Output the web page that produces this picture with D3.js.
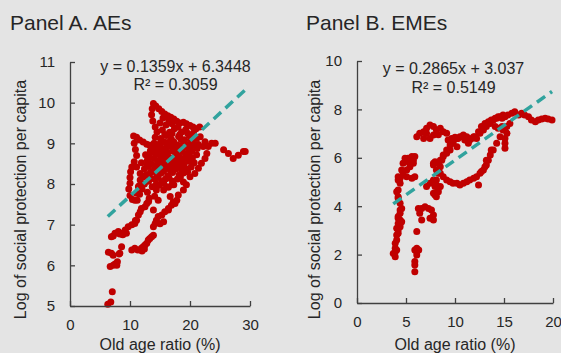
<!DOCTYPE html>
<html>
<head>
<meta charset="utf-8">
<script src="https://cdn.jsdelivr.net/npm/d3@7"></script>
<style>
  html, body { margin: 0; padding: 0; background: #e4e4e4; }
  svg { display: block; font-family: "Liberation Sans", Arial, sans-serif; }
</style>
</head>
<body>
<svg id="chart" width="561" height="353"></svg>
<script>
"use strict";

// panel A: advanced economies, [old age ratio, log social protection per capita]
const aesPoints = [
  [6.3, 5.04], [6.8, 5.1], [7.05, 5.35],
  [6.4, 6.32], [7.2, 6.25], [6.9, 6.3], [8.2, 6.28], [8.3, 6.3], [8.6, 6.46],
  [6.7, 5.97], [7.2, 6.0], [7.5, 6.03], [7.8, 6.0], [7.9, 6.09],
  [6.9, 6.7], [7.2, 6.72], [7.5, 6.79], [8.05, 6.83], [8.3, 6.77], [8.6, 6.79],
  [8.8, 6.75], [9.2, 6.87], [9.4, 6.79], [9.7, 6.95], [10.3, 7.0], [10.8, 7.03],
  [10.9, 7.1], [11.1, 7.11], [11.4, 7.24], [11.7, 7.32], [11.9, 7.4], [12.5, 7.44],
  [12.8, 7.52], [13.1, 7.57],
  [10.3, 6.38], [10.8, 6.42], [11.3, 6.38], [11.9, 6.42], [12.0, 6.35], [12.4, 6.4],
  [12.2, 6.46], [12.5, 6.5], [12.8, 6.54], [13.05, 6.62], [13.3, 6.66], [13.6, 6.7],
  [13.9, 6.74], [13.9, 6.95], [14.2, 7.03], [14.4, 7.11], [14.7, 7.2], [15.0, 7.02],
  [15.6, 7.07], [15.3, 7.24], [15.8, 7.32], [16.4, 7.4], [16.9, 7.48], [17.5, 7.52],
  [13.9, 7.36], [14.7, 7.6], [14.4, 7.85], [14.1, 7.7], [16.7, 7.69], [17.2, 7.56],
  [16.4, 7.36], [15.6, 7.85], [16.1, 7.93], [18.05, 7.73], [17.8, 7.6], [18.9, 7.85],
  [19.4, 7.98], [20.0, 8.18], [20.8, 8.26], [21.4, 8.39], [21.9, 8.51], [22.5, 8.63],
  [11.2, 7.6], [11.6, 7.75], [12.0, 7.88], [12.4, 8.0], [12.9, 7.8], [13.2, 7.65], [11.5, 7.95],
  [10.6, 9.18], [11.1, 9.15], [11.6, 9.08], [12.2, 9.03], [12.8, 8.98], [13.3, 8.95],
  [10.7, 9.0], [10.9, 8.85], [11.1, 8.7], [10.7, 8.55], [10.3, 8.42], [10.1, 8.3],
  [10.0, 8.16], [10.0, 8.02], [9.8, 7.88], [10.0, 7.72], [10.4, 7.62],
  [11.1, 8.42], [11.7, 8.26], [12.2, 8.18], [11.7, 8.1], [11.4, 7.93], [11.1, 7.77], [10.8, 7.6],
  [13.9, 9.98], [14.3, 9.92], [14.8, 9.85], [15.3, 9.78], [15.8, 9.72], [16.3, 9.68],
  [16.8, 9.64], [17.3, 9.6], [17.8, 9.54], [18.3, 9.5], [18.9, 9.52], [19.4, 9.48],
  [20.0, 9.44], [20.5, 9.4], [21.0, 9.36], [21.6, 9.4],
  [13.7, 9.85], [13.6, 9.7], [13.8, 9.55], [14.2, 9.4], [14.5, 9.28], [14.2, 9.15],
  [14.0, 9.0], [14.3, 8.88], [14.6, 8.76],
  [21.7, 9.16], [22.2, 8.92], [22.8, 8.75], [22.5, 9.04], [23.05, 8.92], [23.6, 9.0],
  [24.2, 9.0], [25.6, 8.84], [26.4, 8.75], [27.2, 8.63], [28.05, 8.71], [28.9, 8.8], [29.2, 8.8],
  [15.5, 9.62], [16.5, 9.55], [15.0, 9.5], [16.0, 9.45], [17.0, 9.48], [18.0, 9.4],
  [15.4, 9.33], [16.6, 9.27], [17.4, 9.36], [18.6, 9.28], [19.3, 9.34], [20.6, 9.26],
  [15.1, 9.12], [16.1, 9.19], [16.9, 9.1], [18.1, 9.17], [19.1, 9.09], [19.9, 9.2], [21.1, 9.12],
  [14.7, 8.97], [15.7, 9.04], [16.3, 8.95], [17.3, 9.03], [17.9, 8.96], [18.9, 9.05],
  [19.7, 8.97], [20.4, 9.04], [21.4, 8.97],
  [13.4, 8.82], [14.4, 8.88], [15.4, 8.8], [16.0, 8.9], [17.1, 8.82], [17.7, 8.88],
  [18.7, 8.8], [19.4, 8.9], [20.3, 8.81], [21.2, 8.87],
  [12.6, 8.72], [13.2, 8.66], [14.3, 8.74], [15.1, 8.67], [15.9, 8.73], [16.6, 8.65],
  [17.6, 8.72], [18.3, 8.66], [19.3, 8.74], [20.0, 8.67], [21.1, 8.72],
  [11.9, 8.52], [12.9, 8.58], [13.5, 8.5], [14.6, 8.57], [15.2, 8.51], [16.3, 8.58],
  [16.9, 8.52], [18.0, 8.57], [18.7, 8.5], [19.8, 8.56], [20.7, 8.52],
  [12.4, 8.37], [13.1, 8.43], [14.1, 8.36], [14.8, 8.43], [15.9, 8.37], [16.5, 8.42],
  [17.6, 8.36], [18.2, 8.43], [19.4, 8.37], [20.2, 8.42],
  [12.7, 8.22], [13.4, 8.28], [14.5, 8.21], [15.2, 8.27], [16.3, 8.2], [17.1, 8.28],
  [18.2, 8.22], [18.9, 8.27],
  [13.1, 8.07], [14.1, 8.12], [15.3, 8.06], [15.9, 8.12], [17.1, 8.07], [17.9, 8.12], [18.9, 8.05],
  [13.7, 7.93], [14.9, 7.97], [16.4, 7.92], [17.3, 7.98],
  [15.8, 9.22], [17.0, 9.24], [18.3, 9.22], [19.6, 9.25],
  [15.2, 9.06], [16.7, 9.06], [18.5, 9.1], [20.2, 9.1],
  [14.0, 8.92], [15.0, 8.93], [16.8, 8.93], [18.3, 8.93], [20.0, 8.93], [20.9, 8.95],
  [13.8, 8.78], [14.8, 8.78], [16.3, 8.78], [18.0, 8.78], [19.9, 8.78],
  [13.0, 8.62], [14.0, 8.63], [15.6, 8.62], [17.3, 8.62], [19.0, 8.62], [20.4, 8.64],
  [12.8, 8.47], [14.4, 8.47], [16.0, 8.48], [17.4, 8.47], [19.0, 8.47],
  [13.8, 8.31], [15.6, 8.32], [16.8, 8.33], [18.6, 8.33], [19.6, 8.3],
  [13.4, 8.15], [14.7, 8.16], [16.5, 8.15], [18.4, 8.17],
  [14.4, 8.0], [15.6, 8.02], [17.0, 7.98]
];

// panel B: emerging market economies
const emesPoints = [
  [3.7, 2.05], [3.9, 1.91], [3.9, 2.12], [4.05, 2.19], [3.9, 2.26], [3.9, 2.47],
  [4.05, 2.6], [4.05, 2.81], [4.2, 2.88], [4.2, 3.02], [4.05, 3.09], [4.2, 3.29],
  [4.4, 3.29], [4.4, 3.43], [4.2, 3.5], [4.56, 3.36], [4.4, 3.15], [4.4, 3.71],
  [4.2, 3.57], [4.56, 3.91], [4.4, 3.84], [4.4, 4.12], [4.2, 4.33], [4.2, 4.39],
  [4.05, 4.6], [4.2, 4.67], [4.4, 4.95], [4.2, 5.08], [4.2, 5.22], [4.4, 5.15],
  [4.56, 5.5], [4.7, 5.29], [4.7, 5.77], [5.07, 5.5], [5.07, 5.9], [5.2, 5.98],
  [5.2, 5.84], [4.9, 5.98], [5.4, 5.63], [5.6, 6.05], [5.6, 5.98], [5.75, 5.77],
  [5.75, 5.9], [5.9, 6.05], [5.07, 5.22], [5.6, 5.15], [5.9, 5.22],
  [6.1, 2.95], [6.1, 2.26], [5.9, 2.19], [6.1, 2.12], [6.3, 2.19], [6.1, 1.98],
  [5.9, 1.71], [5.9, 1.57], [5.9, 1.29],
  [6.26, 3.91], [6.6, 3.91], [6.94, 3.98], [7.3, 3.91], [7.6, 3.84], [7.8, 3.64],
  [7.45, 3.5], [6.6, 3.43], [6.4, 3.71], [7.8, 3.43],
  [6.1, 6.87], [6.4, 7.01], [6.8, 7.08], [7.1, 7.22], [7.45, 7.36], [7.8, 7.29],
  [8.1, 7.15], [8.5, 7.22], [8.8, 7.08], [9.15, 7.01], [7.45, 6.8], [6.8, 6.8],
  [7.8, 6.94], [7.1, 7.0], [8.3, 6.95],
  [7.8, 4.53], [7.96, 4.81], [8.1, 5.08], [8.3, 5.36], [8.5, 5.63], [8.65, 5.9],
  [8.8, 6.12], [9.15, 6.32], [9.5, 6.53], [9.8, 6.67], [10.2, 6.8], [10.5, 6.87],
  [10.85, 6.94], [11.2, 6.87], [11.5, 6.74], [11.9, 6.87], [12.2, 6.8], [12.55, 7.01],
  [12.9, 7.15], [13.2, 7.29], [13.6, 7.42], [13.9, 7.56], [14.25, 7.63], [14.6, 7.7],
  [14.9, 7.77],
  [7.1, 4.81], [7.45, 4.95], [7.8, 5.08], [8.5, 4.81], [8.3, 4.6], [7.96, 4.46],
  [8.1, 4.39], [8.3, 4.74], [8.1, 4.88],
  [7.8, 5.77], [8.1, 5.5], [8.5, 5.36], [8.8, 5.22], [9.15, 5.08], [9.5, 5.01],
  [9.8, 4.95], [10.2, 4.95], [10.5, 4.88], [10.85, 4.95], [11.2, 5.01], [11.5, 5.08],
  [11.9, 5.15], [12.2, 5.22], [12.55, 5.36], [12.9, 5.5], [13.2, 5.7], [13.4, 5.9],
  [13.6, 6.12], [13.9, 6.32], [14.25, 6.6], [14.6, 6.87], [14.9, 7.15], [15.3, 7.29],
  [15.6, 7.42], [12.4, 4.88],
  [9.3, 6.74], [9.66, 6.8], [10.0, 6.85], [10.3, 6.8], [10.7, 6.87], [11.0, 6.74],
  [11.36, 6.6], [9.8, 6.6], [10.2, 6.46], [9.5, 6.32], [9.15, 6.19], [8.8, 6.05],
  [8.5, 5.9], [8.3, 5.77], [7.96, 5.84], [7.8, 5.7],
  [11.36, 6.74], [11.7, 6.8], [12.04, 6.87], [12.4, 7.08], [12.7, 7.29], [13.06, 7.42],
  [13.4, 7.49], [13.7, 7.56], [14.1, 7.63], [14.4, 7.7], [14.8, 7.63], [15.1, 7.7],
  [15.4, 7.77], [15.8, 7.84], [16.1, 7.9], [16.5, 7.77], [16.8, 7.84], [17.1, 7.77],
  [17.5, 7.7], [17.8, 7.56], [18.2, 7.49], [18.5, 7.56], [18.85, 7.6], [19.2, 7.63],
  [19.5, 7.6], [19.9, 7.56],
  [14.1, 7.29], [14.4, 7.22], [14.8, 7.29], [15.1, 7.22], [15.3, 7.01], [15.1, 6.8],
  [15.1, 6.6], [15.1, 6.39], [13.7, 6.32], [13.2, 5.9], [13.06, 5.63], [12.7, 5.43]
];

const aesXTicks = [0, 10, 20, 30];
const aesYTicks = [5, 6, 7, 8, 9, 10, 11];
const emesXTicks = [0, 5, 10, 15, 20];
const emesYTicks = [0, 2, 4, 6, 8, 10];

// linear fit: slope, intercept
const aesFit = [0.1359, 6.3448];
const emesFit = [0.2865, 3.037];
const aesEquation = ["y = 0.1359x + 6.3448", "R\u00b2 = 0.3059"];
const emesEquation = ["y = 0.2865x + 3.037", "R\u00b2 = 0.5149"];

const TEXT = "#262626";
const AXIS = "#404040";
const DOT = "#c00000";
const TREND = "#31a39e";

const svg = d3.select("#chart");

const panels = [
  {
    title: "Panel A. AEs",
    titleX: 10,
    points: aesPoints,
    xTicks: aesXTicks,
    yTicks: aesYTicks,
    fit: aesFit,
    equation: aesEquation,
    x: [70, 250],
    y: [306, 62],
    eqX: 175.5,
    eqY: [72, 90],
    yTitleX: 25.5,
  },
  {
    title: "Panel B. EMEs",
    titleX: 306,
    points: emesPoints,
    xTicks: emesXTicks,
    yTicks: emesYTicks,
    fit: emesFit,
    equation: emesEquation,
    x: [357, 553],
    y: [303, 61],
    eqX: 453.5,
    eqY: [74, 92.5],
    yTitleX: 319.5,
  },
];

panels.forEach(drawPanel);

function drawPanel(p) {
  const g = svg.append("g");

  const xScale = d3
    .scaleLinear()
    .domain(d3.extent(p.xTicks))
    .range(p.x);
  const yScale = d3
    .scaleLinear()
    .domain(d3.extent(p.yTicks))
    .range(p.y);

  // title
  g.append("text")
    .attr("x", p.titleX)
    .attr("y", 30)
    .attr("font-size", 21)
    .attr("fill", TEXT)
    .text(p.title);

  // dots
  g.append("g")
    .selectAll("circle")
    .data(p.points)
    .enter()
    .append("circle")
    .attr("cx", (d) => xScale(d[0]))
    .attr("cy", (d) => yScale(d[1]))
    .attr("r", 3.5)
    .attr("fill", DOT);

  // trend line over the range of the data
  const [x0, x1] = d3.extent(p.points, (d) => d[0]);
  g.append("line")
    .attr("x1", xScale(x0))
    .attr("y1", yScale(p.fit[0] * x0 + p.fit[1]))
    .attr("x2", xScale(x1))
    .attr("y2", yScale(p.fit[0] * x1 + p.fit[1]))
    .attr("stroke", TREND)
    .attr("stroke-width", 3.5)
    .attr("stroke-dasharray", "10,6");

  // axes, ticks point inside
  const fmt = d3.format("d");
  const xAxis = g
    .append("g")
    .attr("transform", `translate(0,${p.y[0]})`)
    .call(
      d3.axisBottom(xScale).tickValues(p.xTicks).tickFormat(fmt)
        .tickSizeInner(-5).tickSizeOuter(0).tickPadding(13.5)
    );
  const yAxis = g
    .append("g")
    .attr("transform", `translate(${p.x[0]},0)`)
    .call(
      d3.axisLeft(yScale).tickValues(p.yTicks).tickFormat(fmt)
        .tickSizeInner(-5).tickSizeOuter(0).tickPadding(15)
    );

  [xAxis, yAxis].forEach((a) => {
    a.attr("font-family", null).attr("font-size", 15);
    a.selectAll("path, line").attr("stroke", AXIS).attr("stroke-width", 1.3);
    a.selectAll("text").attr("fill", TEXT);
  });

  // equation
  p.equation.forEach((line, i) => {
    g.append("text")
      .attr("x", p.eqX)
      .attr("y", p.eqY[i])
      .attr("text-anchor", "middle")
      .attr("font-size", 16)
      .attr("fill", TEXT)
      .text(line);
  });

  // axis titles
  g.append("text")
    .attr("x", (p.x[0] + p.x[1]) / 2)
    .attr("y", 350)
    .attr("text-anchor", "middle")
    .attr("font-size", 16)
    .attr("fill", TEXT)
    .text("Old age ratio (%)");

  g.append("text")
    .attr("transform", `translate(${p.yTitleX},199.5) rotate(-90)`)
    .attr("text-anchor", "middle")
    .attr("font-size", 16)
    .attr("fill", TEXT)
    .text("Log of social protection per capita");
}
</script>
</body>
</html>
